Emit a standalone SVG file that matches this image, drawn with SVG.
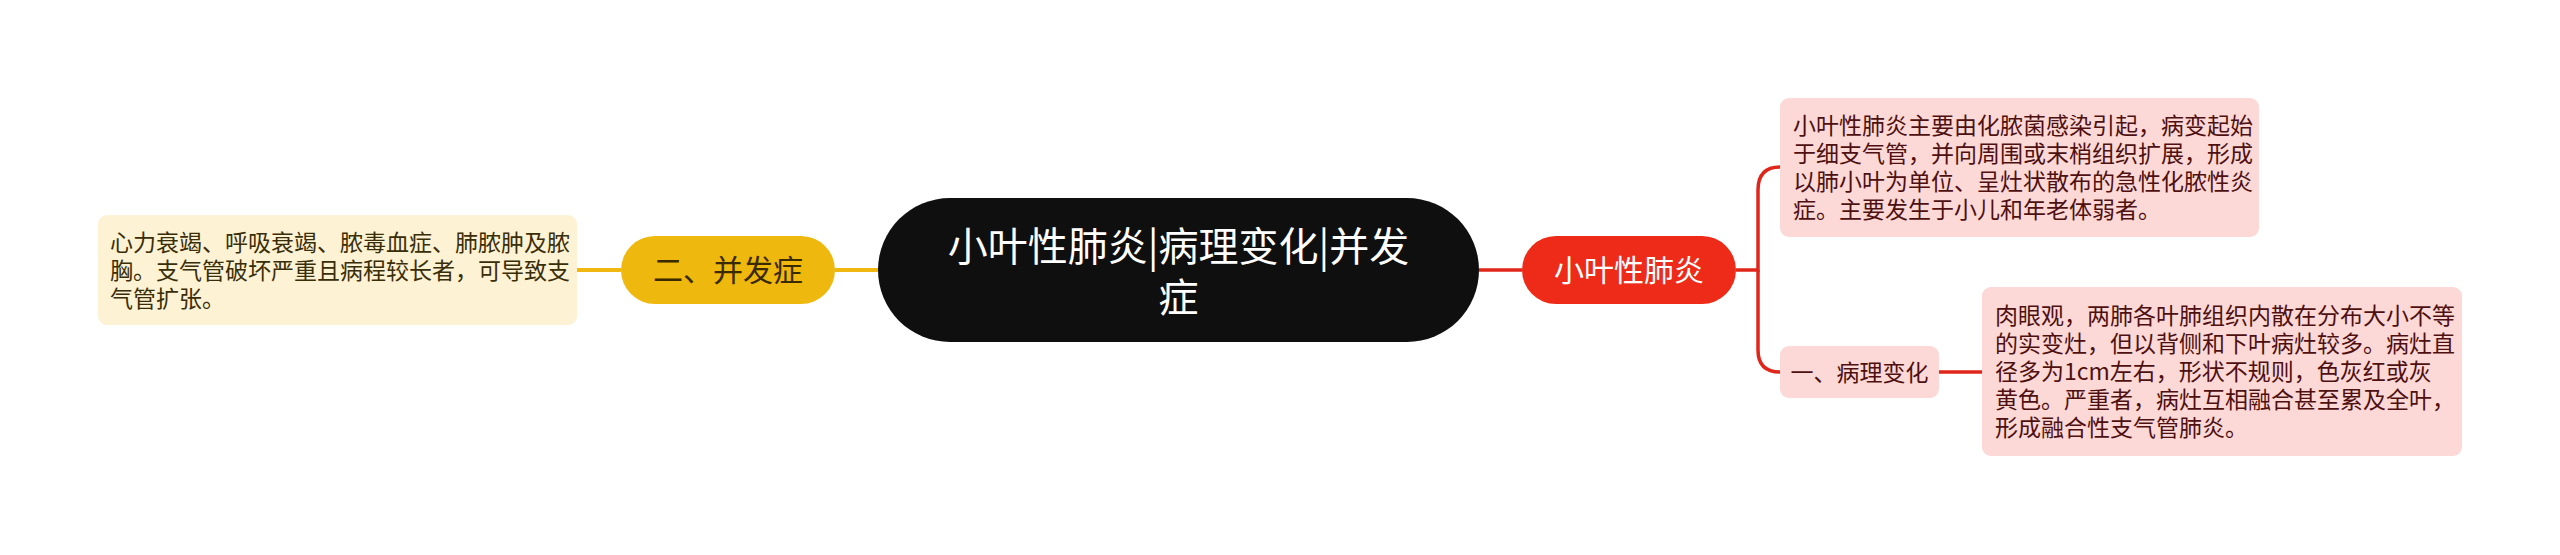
<svg xmlns="http://www.w3.org/2000/svg" width="2560" height="555" viewBox="0 0 2560 555">
<style>
text{font-family:"Noto Sans CJK SC","Noto Sans",sans-serif;}
.box-y{fill:#FDF2D4;}
.box-p{fill:#FCD8D6;}
.t-y{font-size:23px;fill:#3A2E08;}
.t-p{font-size:23px;fill:#4E1010;}
.c-y{stroke:#EFB710;stroke-width:4;fill:none;}
.c-r{stroke:#E0261A;stroke-width:3.5;fill:none;}
</style>
<rect width="2560" height="555" fill="#FFFFFF"/>
<g id="connectors">
<path class="c-y" d="M835 270 H878"/>
<path class="c-y" d="M577 270 H621"/>
<path class="c-r" d="M1479 270 H1522"/>
<path class="c-r" d="M1736 270 H1758 V190 Q1758 167 1780 167"/>
<path class="c-r" d="M1758 270 V350 Q1758 372 1780 372"/>
<path class="c-r" d="M1939 372 H1982"/>
</g>
<g id="root">
<rect x="878" y="198" width="601" height="144" rx="72" fill="#0F0F0F"/>
<text font-size="40" fill="#FFFFFF" text-anchor="middle"><tspan x="1178.5" y="261">小叶性肺炎|病理变化|并发</tspan><tspan x="1178.5" y="312">症</tspan></text>
</g>
<g id="n-bingfazheng">
<rect x="621" y="236" width="214" height="68" rx="34" fill="#EFB80F"/>
<text x="728" y="281" font-size="30" fill="#3A2A00" text-anchor="middle">二、并发症</text>
</g>
<g id="n-bingfazheng-detail">
<rect class="box-y" x="98" y="215" width="479" height="110" rx="9"/>
<text class="t-y"><tspan x="110" y="251">心力衰竭、呼吸衰竭、脓毒血症、肺脓肿及脓</tspan><tspan x="110" y="279">胸。支气管破坏严重且病程较长者，可导致支</tspan><tspan x="110" y="307">气管扩张。</tspan></text>
</g>
<g id="n-xiaoye">
<rect x="1522" y="236" width="214" height="68" rx="34" fill="#EE2A18"/>
<text x="1629" y="281" font-size="30" fill="#FFFFFF" text-anchor="middle">小叶性肺炎</text>
</g>
<g id="n-xiaoye-detail">
<rect class="box-p" x="1780" y="98" width="479" height="139" rx="9"/>
<text class="t-p"><tspan x="1793" y="134">小叶性肺炎主要由化脓菌感染引起，病变起始</tspan><tspan x="1793" y="162">于细支气管，并向周围或末梢组织扩展，形成</tspan><tspan x="1793" y="190">以肺小叶为单位、呈灶状散布的急性化脓性炎</tspan><tspan x="1793" y="218">症。主要发生于小儿和年老体弱者。</tspan></text>
</g>
<g id="n-bingli">
<rect class="box-p" x="1780" y="346" width="159" height="52" rx="9"/>
<text class="t-p" x="1859.5" y="381" text-anchor="middle">一、病理变化</text>
</g>
<g id="n-bingli-detail">
<rect class="box-p" x="1982" y="287" width="480" height="169" rx="9"/>
<text class="t-p"><tspan x="1995" y="324">肉眼观，两肺各叶肺组织内散在分布大小不等</tspan><tspan x="1995" y="352">的实变灶，但以背侧和下叶病灶较多。病灶直</tspan><tspan x="1995" y="380">径多为1cm左右，形状不规则，色灰红或灰</tspan><tspan x="1995" y="408">黄色。严重者，病灶互相融合甚至累及全叶，</tspan><tspan x="1995" y="436">形成融合性支气管肺炎。</tspan></text>
</g>
</svg>
